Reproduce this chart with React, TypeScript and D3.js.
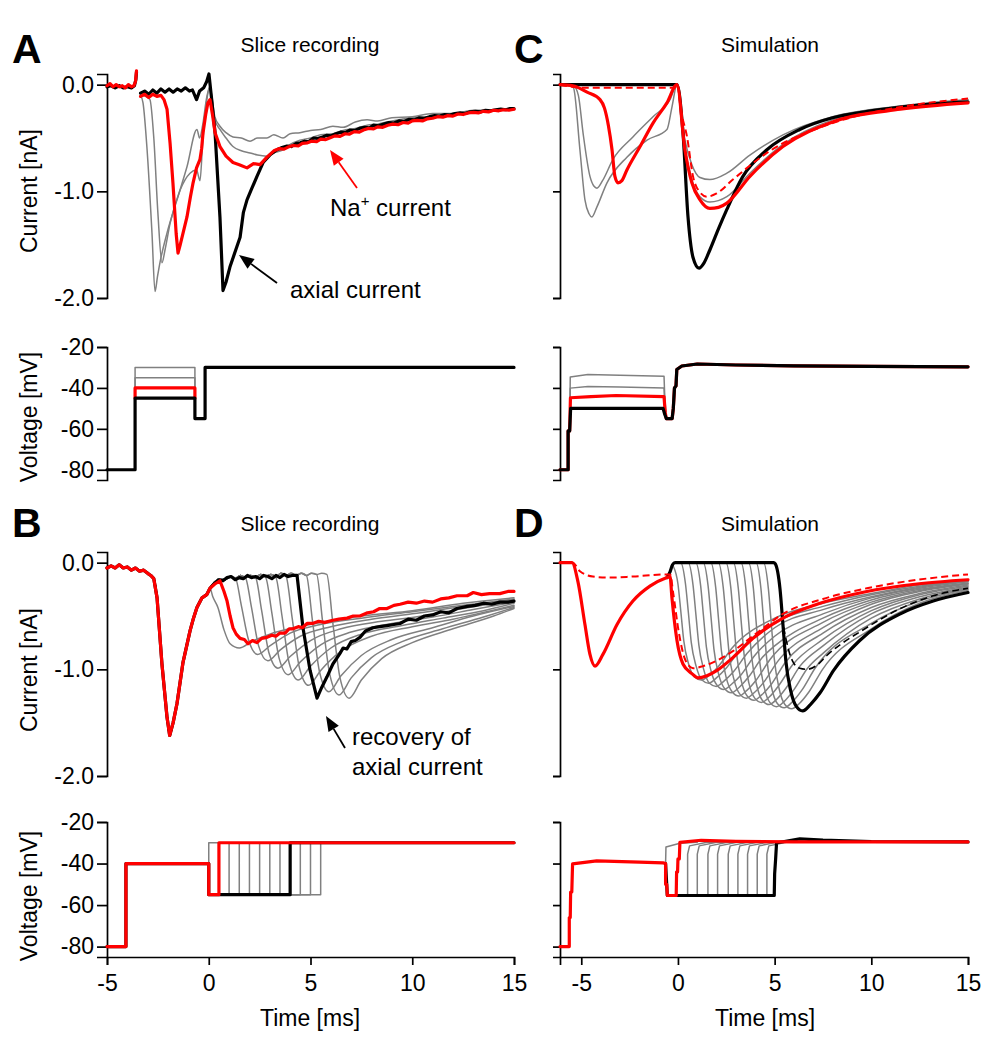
import React, { useEffect, useRef } from 'react';
import * as d3 from 'd3';

type P = [number, number];

// ---------------- Tick labels ----------------
const currentTicks = [0, -1, -2];
const voltageTicks = [-20, -40, -60, -80];
const timeTicks = [-5, 0, 5, 10, 15];

// ---------------- Panel A: slice recording, current (ms, nA) ----------------
const aCurRedPre: P[] = [[-5,-0.01],[-4.85,0.01],[-4.7,-0.02],[-4.55,0.0],[-4.4,-0.02],[-4.25,-0.01],[-4.1,-0.03],[-3.95,0.0],[-3.8,-0.02],[-3.68,-0.01],[-3.6,0.03],[-3.55,0.13]];
const aCurBlackPre: P[] = [[-5,-0.02],[-4.8,-0.01],[-4.6,-0.03],[-4.4,-0.01],[-4.2,-0.03],[-4.0,-0.02],[-3.8,-0.03],[-3.65,-0.01],[-3.58,0.05],[-3.55,0.12]];
const aCurBlack: P[] = [[-3.35,-0.08],[-3.15,-0.06],[-2.95,-0.09],[-2.75,-0.05],[-2.55,-0.08],[-2.35,-0.04],[-2.15,-0.07],[-1.95,-0.04],[-1.75,-0.07],[-1.55,-0.04],[-1.35,-0.06],[-1.15,-0.03],[-0.95,-0.06],[-0.8,-0.05],[-0.6,-0.14],[-0.45,-0.06],[-0.25,-0.03],[-0.1,0.03],[0.01,0.1],[0.15,-0.15],[0.31,-0.45],[0.55,-1.24],[0.7,-1.93],[0.85,-1.85],[1.04,-1.71],[1.2,-1.62],[1.54,-1.43],[1.7,-1.2],[1.88,-1.08],[2.1,-0.98],[2.37,-0.86],[2.67,-0.73],[3.0,-0.66],
  [3.35,-0.61],[3.6,-0.59],[3.85,-0.575],[4.05,-0.58],[4.3,-0.55],[4.5,-0.545],[4.7,-0.53],[4.9,-0.535],[5.15,-0.5],[5.35,-0.505],[5.6,-0.49],[5.8,-0.475],[6.0,-0.48],[6.25,-0.46],[6.5,-0.445],[6.7,-0.45],[6.95,-0.425],[7.2,-0.43],[7.4,-0.41],[7.65,-0.4],[7.9,-0.405],[8.1,-0.38],[8.35,-0.385],[8.6,-0.37],[8.85,-0.355],[9.1,-0.36],[9.35,-0.34],[9.6,-0.345],[9.85,-0.325],[10.1,-0.33],[10.35,-0.31],[10.6,-0.315],[10.85,-0.3],[11.1,-0.29],[11.35,-0.295],[11.6,-0.28],[11.85,-0.285],[12.1,-0.27],[12.35,-0.265],[12.6,-0.27],[12.85,-0.255],[13.1,-0.25],[13.35,-0.255],[13.6,-0.24],[13.85,-0.245],[14.1,-0.235],[14.35,-0.23],[14.6,-0.235],[14.8,-0.225],[15,-0.225]];
const aCurRed: P[] = [[-3.35,-0.11],[-3.15,-0.09],[-2.95,-0.12],[-2.75,-0.09],[-2.55,-0.11],[-2.35,-0.1],[-2.2,-0.14],[-2.05,-0.23],[-1.9,-0.55],[-1.76,-0.92],[-1.6,-1.4],[-1.51,-1.58],[-1.4,-1.5],[-1.07,-1.24],[-0.9,-1.05],[-0.77,-0.92],[-0.6,-0.78],[-0.43,-0.7],[-0.35,-0.6],[-0.28,-0.45],[-0.15,-0.28],[-0.04,-0.17],[0.06,-0.14],[0.2,-0.3],[0.31,-0.45],[0.55,-0.58],[0.85,-0.67],[1.19,-0.73],[1.5,-0.75],[1.88,-0.78],[2.2,-0.74],[2.52,-0.75],[2.86,-0.68],
  [3.2,-0.62],[3.45,-0.6],[3.7,-0.605],[3.9,-0.585],[4.15,-0.57],[4.4,-0.575],[4.6,-0.55],[4.85,-0.545],[5.05,-0.53],[5.3,-0.535],[5.5,-0.51],[5.75,-0.515],[6.0,-0.495],[6.2,-0.48],[6.45,-0.485],[6.7,-0.46],[6.9,-0.465],[7.15,-0.44],[7.4,-0.445],[7.6,-0.425],[7.85,-0.41],[8.1,-0.415],[8.3,-0.395],[8.55,-0.4],[8.8,-0.38],[9.05,-0.37],[9.3,-0.375],[9.55,-0.355],[9.8,-0.36],[10.0,-0.34],[10.25,-0.335],[10.5,-0.34],[10.75,-0.32],[11.0,-0.315],[11.25,-0.3],[11.5,-0.305],[11.75,-0.29],[12.0,-0.295],[12.25,-0.275],[12.5,-0.28],[12.75,-0.265],[13.0,-0.26],[13.25,-0.265],[13.5,-0.25],[13.75,-0.255],[14.0,-0.24],[14.25,-0.245],[14.5,-0.235],[14.75,-0.24],[15,-0.23]];
const aCurGray30: P[] = [[-3.35,-0.1],[-3.23,-0.17],[-3.03,-0.61],[-2.79,-1.39],[-2.64,-1.94],[-2.52,-1.8],[-2.4,-1.67],[-2.05,-1.39],[-1.56,-1.08],[-1.07,-0.77],[-0.58,-0.42],[-0.45,-0.5],[-0.3,-0.38],[-0.1,-0.12],[0.05,-0.02],[0.3,-0.3],[0.55,-0.39],[0.85,-0.45],[1.19,-0.49],[1.6,-0.5],[2.03,-0.53],[2.4,-0.5],[2.86,-0.5],[3.2,-0.47],[3.65,-0.5],[4.0,-0.46],[4.48,-0.45],[5.0,-0.43],[5.5,-0.42],[6.1,-0.39],[6.6,-0.4],[7.2,-0.35],[7.78,-0.33],[8.3,-0.34],[9.0,-0.31],[10,-0.3],[11,-0.27],[12,-0.27],[13,-0.24],[14,-0.24],[15,-0.22]];
const aCurGray35: P[] = [[-3.35,-0.1],[-3.1,-0.11],[-2.89,-0.14],[-2.7,-0.5],[-2.5,-1.2],[-2.3,-1.67],[-2.15,-1.55],[-1.9,-1.3],[-1.41,-0.99],[-0.92,-0.83],[-0.6,-0.8],[-0.43,-0.9],[-0.3,-0.55],[-0.1,-0.15],[0.05,-0.03],[0.3,-0.33],[0.55,-0.42],[0.85,-0.5],[1.19,-0.58],[1.6,-0.62],[2.03,-0.64],[2.4,-0.66],[2.86,-0.67],[3.2,-0.64],[3.65,-0.61],[4.0,-0.56],[4.48,-0.52],[5.0,-0.5],[5.5,-0.47],[6.1,-0.46],[6.6,-0.43],[7.2,-0.41],[7.78,-0.38],[8.3,-0.37],[9,-0.34],[10,-0.31],[11,-0.3],[12,-0.27],[13,-0.26],[14,-0.24],[15,-0.23]];

// ---------------- Panel A: voltage protocol (ms, mV) ----------------
const aVoltBlack: P[] = [[-5,-80],[-3.62,-80],[-3.62,-45],[-0.68,-45],[-0.68,-55],[-0.18,-55],[-0.18,-30],[15,-30]];
const aVoltRed: P[] = [[-3.62,-45],[-3.62,-40],[-0.68,-40],[-0.68,-45]];
const aVoltGray30: P[] = [[-3.62,-40],[-3.62,-30],[-0.68,-30],[-0.68,-40]];
const aVoltGray35: P[] = [[-3.62,-40],[-3.62,-35],[-0.68,-35],[-0.68,-40]];

// ---------------- Panel B: slice recording, current ----------------
const bCurPre: P[] = [[-5,-0.05],[-4.8,-0.03],[-4.6,-0.05],[-4.4,-0.02],[-4.2,-0.05],[-4.0,-0.04],[-3.8,-0.07],[-3.6,-0.05],[-3.4,-0.08],[-3.2,-0.07],[-3.0,-0.1],[-2.85,-0.12],[-2.7,-0.15],[-2.54,-0.33],[-2.3,-0.95],[-2.05,-1.45],[-1.92,-1.62],[-1.75,-1.5],[-1.56,-1.32],[-1.27,-0.94],[-0.92,-0.64],[-0.75,-0.52],[-0.58,-0.42],[-0.33,-0.33],[-0.1,-0.3],[0.06,-0.24]];
const bCurBlackPost: P[] = [[0.3,-0.19],[0.5,-0.16],[0.7,-0.17],[0.9,-0.14],[1.1,-0.13],[1.3,-0.16],[1.5,-0.14],[1.7,-0.15],[1.9,-0.12],[2.1,-0.14],[2.3,-0.13],[2.5,-0.15],[2.7,-0.12],[2.9,-0.13],[3.1,-0.15],[3.3,-0.12],[3.5,-0.14],[3.7,-0.11],[3.9,-0.13],[4.1,-0.12],[4.34,-0.12],[4.63,-0.61],[4.98,-1.01],[5.32,-1.27],[5.55,-1.17],[5.81,-1.07],[6.1,-0.95],[6.45,-0.85],[6.6,-0.8],[6.79,-0.81],[7.0,-0.74],[7.2,-0.73],[7.43,-0.7],[7.7,-0.64],[8.07,-0.61],[8.4,-0.6],[8.76,-0.59],[9.1,-0.58],[9.4,-0.57],[9.8,-0.53],[10.2,-0.54],[10.6,-0.5],[11.0,-0.49],[11.4,-0.46],[11.8,-0.47],[12.2,-0.43],[12.7,-0.41],[13.1,-0.4],[13.5,-0.38],[13.9,-0.39],[14.3,-0.37],[14.7,-0.37],[15,-0.36]];
const bCurRedPost: P[] = [[0.3,-0.2],[0.55,-0.17],[0.75,-0.27],[0.9,-0.36],[1.05,-0.5],[1.19,-0.61],[1.35,-0.67],[1.54,-0.71],[1.75,-0.72],[1.93,-0.76],[2.15,-0.73],[2.37,-0.75],[2.6,-0.71],[2.86,-0.7],[3.1,-0.68],[3.3,-0.69],[3.5,-0.66],[3.75,-0.66],[3.95,-0.62],[4.14,-0.62],[4.4,-0.6],[4.6,-0.61],[4.83,-0.57],[5.1,-0.57],[5.4,-0.55],[5.7,-0.56],[6.1,-0.54],[6.4,-0.53],[6.8,-0.52],[7.1,-0.5],[7.43,-0.5],[7.8,-0.47],[8.1,-0.46],[8.4,-0.43],[8.76,-0.43],[9.1,-0.4],[9.4,-0.39],[9.8,-0.37],[10.2,-0.38],[10.6,-0.36],[11.0,-0.37],[11.4,-0.34],[11.8,-0.33],[12.2,-0.31],[12.7,-0.31],[13.0,-0.28],[13.4,-0.3],[13.8,-0.29],[14.3,-0.29],[14.7,-0.27],[15,-0.27]];
const bCurGrayFlat: P[] = [[0.3,-0.18],[0.55,-0.15],[0.8,-0.16],[1.05,-0.13],[1.3,-0.15],[1.55,-0.12],[1.8,-0.14],[2.05,-0.12],[2.3,-0.14],[2.55,-0.11],[2.8,-0.13],[3.05,-0.11],[3.3,-0.13],[3.55,-0.1],[3.8,-0.12],[4.05,-0.1],[4.3,-0.12],[4.55,-0.1],[4.8,-0.12],[5.05,-0.1],[5.3,-0.11],[5.55,-0.1],[5.8,-0.11]];
const bCurGrayPosts: P[][] = [
  [[0.2,-0.32],[0.45,-0.42],[0.75,-0.63],[1.05,-0.76],[1.5,-0.8],[2.1,-0.74],[3.0,-0.67],[4.2,-0.61],[5.5,-0.56],[7.5,-0.5],[10,-0.45],[12.5,-0.38],[15,-0.33]],
  [[1.3,-0.14],[1.6,-0.4],[1.95,-0.72],[2.4,-0.86],[3.0,-0.78],[4.0,-0.66],[5.5,-0.58],[7.5,-0.52],[10,-0.46],[12.5,-0.4],[15,-0.34]],
  [[1.8,-0.14],[2.1,-0.42],[2.45,-0.78],[2.9,-0.92],[3.5,-0.82],[4.5,-0.69],[6,-0.6],[8,-0.53],[10,-0.48],[12.5,-0.41],[15,-0.35]],
  [[2.3,-0.14],[2.6,-0.45],[2.95,-0.84],[3.4,-0.99],[4.0,-0.88],[5.0,-0.73],[6.5,-0.62],[8.5,-0.55],[10.5,-0.5],[12.5,-0.43],[15,-0.36]],
  [[2.8,-0.14],[3.1,-0.47],[3.45,-0.89],[3.9,-1.05],[4.5,-0.93],[5.5,-0.77],[7,-0.65],[9,-0.57],[11,-0.51],[13,-0.44],[15,-0.37]],
  [[3.3,-0.14],[3.6,-0.5],[3.95,-0.94],[4.4,-1.1],[5.0,-0.97],[6.0,-0.8],[7.5,-0.67],[9.5,-0.59],[11.5,-0.52],[13.5,-0.45],[15,-0.38]],
  [[3.8,-0.13],[4.1,-0.52],[4.45,-0.98],[4.9,-1.15],[5.5,-1.01],[6.5,-0.83],[8,-0.69],[10,-0.6],[12,-0.53],[15,-0.4]],
  [[4.8,-0.12],[5.1,-0.55],[5.45,-1.03],[5.9,-1.21],[6.5,-1.06],[7.5,-0.87],[9,-0.72],[11,-0.61],[13,-0.5],[15,-0.41]],
  [[5.3,-0.11],[5.6,-0.56],[5.95,-1.05],[6.4,-1.24],[7.0,-1.08],[8.0,-0.89],[9.5,-0.74],[11.5,-0.62],[13.5,-0.51],[15,-0.42]],
  [[5.8,-0.11],[6.1,-0.57],[6.45,-1.08],[6.9,-1.27],[7.5,-1.1],[8.5,-0.9],[10,-0.75],[12,-0.62],[14,-0.5],[15,-0.43]],
];

// ---------------- Panel B: voltage protocol ----------------
const bVoltBlack: P[] = [[-5,-80],[-4.07,-80],[-4.07,-40],[0,-40],[0,-55],[4.0,-55],[4.0,-30],[15,-30]];
const bVoltRed: P[] = [[-5,-80],[-4.07,-80],[-4.07,-40],[0,-40],[0,-55],[0.5,-55],[0.5,-30],[15,-30]];
const bVoltGrayRecovery = [0, 1.0, 1.5, 2.0, 2.5, 3.0, 3.5, 4.5, 5.0, 5.5];
const bVoltLevels = { pre: -40, gap: -55, test: -30 };

// ---------------- Panel C: simulation, current ----------------
const cCurBlack: P[] = [[-6.1,0],[-0.15,0],[-0.05,0],[0.26,-0.45],[0.52,-1.24],[0.78,-1.62],[1.09,-1.72],[1.35,-1.67],[1.65,-1.55],[2.1,-1.35],[2.53,-1.17],[3.36,-0.86],[4.6,-0.61],[6.3,-0.42],[8.0,-0.31],[9.8,-0.25],[11.5,-0.21],[13.2,-0.18],[15,-0.16]];
const cCurRed: P[] = [[-6.1,0],[-5.43,-0.01],[-4.7,-0.07],[-4.03,-0.14],[-3.8,-0.22],[-3.6,-0.38],[-3.41,-0.61],[-3.26,-0.86],[-3.1,-0.92],[-2.9,-0.9],[-2.64,-0.8],[-1.96,-0.58],[-1.29,-0.36],[-0.57,-0.17],[-0.05,0.0],[0.36,-0.61],[0.72,-0.92],[1.14,-1.08],[1.65,-1.16],[2.1,-1.15],[2.53,-1.11],[3.72,-0.86],[5.43,-0.58],[8.0,-0.35],[11.5,-0.23],[15,-0.17]];
const cCurRedDash: P[] = [[-6.1,0],[-5.5,-0.02],[-5.0,-0.03],[-0.15,-0.03],[-0.05,0],[0.2,-0.28],[0.47,-0.49],[0.78,-0.86],[1.1,-1.0],[1.5,-1.05],[2.0,-1.02],[2.84,-0.89],[4.6,-0.64],[8.0,-0.36],[11.5,-0.21],[15,-0.13]];
const cCurGray35: P[] = [[-6.1,0],[-5.6,0],[-5.4,-0.03],[-5.07,-0.61],[-4.81,-1.08],[-4.6,-1.21],[-4.45,-1.24],[-4.2,-1.15],[-3.67,-0.92],[-2.64,-0.68],[-1.6,-0.52],[-0.57,-0.42],[-0.31,-0.21],[-0.05,0],[0.36,-0.52],[0.72,-0.75],[1.14,-0.87],[1.65,-0.89],[2.53,-0.83],[3.72,-0.66],[5.43,-0.47],[8.0,-0.3],[11.5,-0.2],[15,-0.14]];
const cCurGray40: P[] = [[-6.1,0],[-5.4,-0.01],[-5.15,-0.1],[-4.91,-0.45],[-4.55,-0.86],[-4.35,-0.95],[-4.19,-0.97],[-3.9,-0.9],[-3.36,-0.7],[-2.33,-0.49],[-1.29,-0.3],[-0.41,-0.14],[-0.05,0],[0.36,-0.59],[0.72,-0.89],[1.14,-1.05],[1.65,-1.1],[2.53,-1.05],[3.72,-0.83],[5.43,-0.56],[8.0,-0.33],[11.5,-0.22],[15,-0.16]];

// ---------------- Panel C: voltage ----------------
const cVoltPost: P[] = [[-0.3,-55],[-0.24,-50],[-0.18,-40],[-0.1,-39],[-0.06,-31],[0.2,-29.3],[1.0,-28.3],[3,-28.8],[6,-29.2],[10,-29.5],[15,-29.7]];
const cVoltBlack: P[] = [[-6.1,-80],[-5.68,-80],[-5.68,-61],[-5.6,-61],[-5.55,-50],[-4.5,-50],[-0.77,-50],[-0.68,-53],[-0.6,-55]];
const cVoltRed: P[] = [[-6.1,-80],[-5.68,-80],[-5.68,-61],[-5.6,-61],[-5.56,-44.8],[-4.5,-44.3],[-3.2,-43.7],[-0.72,-44.3],[-0.66,-52],[-0.6,-55]];
const cVoltGray35: P[] = [[-5.6,-61],[-5.57,-34.7],[-4.66,-33.4],[-3.0,-33.8],[-0.72,-34.3],[-0.68,-45],[-0.6,-55]];
const cVoltGray40: P[] = [[-5.6,-61],[-5.57,-40.1],[-4.66,-39.3],[-3.0,-39.6],[-0.72,-40.0],[-0.68,-48],[-0.6,-55]];

// ---------------- Panel D: simulation, current ----------------
const dCurRed: P[] = [[-6.1,0],[-5.48,0],[-5.17,-0.18],[-4.81,-0.58],[-4.55,-0.86],[-4.29,-0.97],[-3.88,-0.86],[-3.15,-0.58],[-2.33,-0.36],[-1.45,-0.22],[-0.57,-0.14],[-0.41,-0.13],[-0.31,-0.33],[-0.05,-0.73],[0.26,-0.95],[0.72,-1.04],[1.03,-1.08],[1.5,-1.06],[2.02,-1.01],[2.84,-0.89],[3.88,-0.71],[5.43,-0.52],[7.19,-0.39],[9.77,-0.27],[12.36,-0.2],[15,-0.16]];
const dCurRedDash: P[] = [[-6.1,0],[-5.45,0],[-5.07,-0.08],[-4.4,-0.13],[-3.52,-0.14],[-2.33,-0.13],[-0.57,-0.11],[-0.4,-0.11],[-0.25,-0.28],[0.05,-0.66],[0.4,-0.92],[0.78,-0.99],[1.3,-0.97],[2.0,-0.92],[2.84,-0.83],[4.0,-0.67],[5.43,-0.48],[7.5,-0.34],[9.77,-0.24],[12.4,-0.16],[15,-0.11]];
const dCurBlack: P[] = [[-0.57,-0.14],[-0.42,-0.09],[-0.28,-0.02],[-0.15,0],[4.95,0],[5.03,-0.01],[5.28,-0.25],[5.43,-0.58],[5.58,-0.92],[5.83,-1.2],[6.13,-1.35],[6.45,-1.39],[6.85,-1.33],[7.35,-1.22],[8.05,-1.01],[9.4,-0.73],[11.5,-0.48],[13.2,-0.36],[15,-0.28]];
const dCurBlackDash: P[] = [[4.95,0],[5.03,-0.01],[5.28,-0.25],[5.43,-0.55],[5.63,-0.75],[5.95,-0.93],[6.3,-0.99],[6.67,-1.0],[7.2,-0.96],[7.7,-0.87],[8.38,-0.77],[9.4,-0.65],[11.5,-0.43],[13.2,-0.31],[15,-0.24]];
const dCurGrayPre: P[] = [[-0.57,-0.14],[-0.42,-0.09],[-0.28,-0.02],[-0.15,0]];
const dCurGrays: P[][] = [
  [[-0.25,-0.03],[0.0,-0.2],[0.15,-0.46],[0.3,-0.73],[0.55,-0.95],[0.85,-1.07],[1.2,-1.1],[1.6,-1.06],[2.1,-0.97],[2.8,-0.8],[5.0,-0.52],[7.5,-0.38],[10,-0.29],[12.5,-0.21],[15,-0.165]],
  [[0.14,0],[0.39,-0.2],[0.54,-0.47],[0.69,-0.75],[0.94,-0.97],[1.24,-1.1],[1.59,-1.13],[1.99,-1.08],[2.49,-0.99],[3.19,-0.82],[5.0,-0.56],[7.5,-0.41],[10,-0.3],[12.5,-0.22],[15,-0.17]],
  [[0.53,0],[0.78,-0.21],[0.93,-0.49],[1.08,-0.77],[1.33,-1.0],[1.63,-1.13],[1.98,-1.16],[2.38,-1.11],[2.88,-1.02],[3.58,-0.85],[5.0,-0.61],[7.5,-0.44],[10,-0.32],[12.5,-0.23],[15,-0.175]],
  [[0.92,0],[1.17,-0.21],[1.32,-0.5],[1.47,-0.79],[1.72,-1.02],[2.02,-1.15],[2.37,-1.19],[2.77,-1.14],[3.27,-1.05],[3.97,-0.87],[5.0,-0.69],[7.5,-0.48],[10,-0.33],[12.5,-0.24],[15,-0.18]],
  [[1.31,0],[1.56,-0.22],[1.71,-0.51],[1.86,-0.81],[2.11,-1.05],[2.41,-1.18],[2.76,-1.22],[3.16,-1.17],[3.66,-1.07],[4.36,-0.89],[5.0,-0.78],[7.5,-0.52],[10,-0.35],[12.5,-0.25],[15,-0.19]],
  [[1.7,0],[1.95,-0.23],[2.1,-0.53],[2.25,-0.83],[2.5,-1.08],[2.8,-1.21],[3.15,-1.25],[3.55,-1.2],[4.05,-1.1],[4.75,-0.91],[7.5,-0.56],[10,-0.37],[12.5,-0.26],[15,-0.195]],
  [[2.09,0],[2.34,-0.23],[2.49,-0.53],[2.64,-0.84],[2.89,-1.09],[3.19,-1.23],[3.54,-1.27],[3.94,-1.22],[4.44,-1.12],[5.14,-0.93],[7.5,-0.61],[10,-0.39],[12.5,-0.27],[15,-0.2]],
  [[2.48,0],[2.73,-0.23],[2.88,-0.54],[3.03,-0.85],[3.28,-1.11],[3.58,-1.25],[3.93,-1.29],[4.33,-1.24],[4.83,-1.14],[5.53,-0.94],[7.5,-0.66],[10,-0.42],[12.5,-0.29],[15,-0.21]],
  [[2.87,0],[3.12,-0.24],[3.27,-0.55],[3.42,-0.86],[3.67,-1.13],[3.97,-1.27],[4.32,-1.31],[4.72,-1.26],[5.22,-1.15],[5.92,-0.96],[7.5,-0.72],[10,-0.45],[12.5,-0.3],[15,-0.22]],
  [[3.26,0],[3.51,-0.24],[3.66,-0.56],[3.81,-0.88],[4.06,-1.14],[4.36,-1.29],[4.71,-1.33],[5.11,-1.28],[5.61,-1.17],[6.31,-0.97],[7.5,-0.78],[10,-0.48],[12.5,-0.32],[15,-0.23]],
  [[3.65,0],[3.9,-0.24],[4.05,-0.57],[4.2,-0.89],[4.45,-1.16],[4.75,-1.31],[5.1,-1.35],[5.5,-1.3],[6.0,-1.19],[6.7,-0.99],[7.5,-0.85],[10,-0.52],[12.5,-0.34],[15,-0.24]],
  [[4.04,0],[4.29,-0.24],[4.44,-0.57],[4.59,-0.9],[4.84,-1.17],[5.14,-1.32],[5.49,-1.36],[5.89,-1.31],[6.39,-1.2],[7.09,-0.99],[10,-0.57],[12.5,-0.36],[15,-0.25]],
  [[4.43,0],[4.68,-0.25],[4.83,-0.58],[4.98,-0.9],[5.23,-1.18],[5.53,-1.33],[5.88,-1.37],[6.28,-1.32],[6.78,-1.21],[7.48,-1.0],[10,-0.62],[12.5,-0.38],[15,-0.26]],
];

// ---------------- Panel D: voltage ----------------
const dVoltRed: P[] = [[-6.1,-80],[-5.62,-80],[-5.62,-66],[-5.57,-66],[-5.55,-53.7],[-5.49,-53.7],[-5.45,-40.2],[-4.2,-38.7],[-2.0,-39.3],[-0.77,-39.7],[-0.64,-40],[-0.64,-50],[-0.58,-50],[-0.55,-55.4],[-0.09,-55.4],[-0.07,-44],[-0.02,-44],[0.0,-37.8],[0.07,-37.8],[0.1,-29.8],[1.2,-28.8],[3,-29.3],[6,-29.6],[10,-29.6],[15,-29.6]];
const dVoltBlack: P[] = [[-0.64,-40],[-0.55,-55.4],[4.98,-55.4],[5.0,-45],[5.05,-38],[5.1,-30],[5.5,-29.4],[6.3,-28.1],[7.5,-28.7],[10,-29.4],[15,-29.6]];
const dVoltGrayRelease = [0.5, 1.0, 1.55, 2.05, 2.6, 3.1, 3.6, 4.1, 4.6];
const dVoltGrayFirst: P[] = [[-0.64,-40],[-0.62,-32],[0.1,-30.2],[1,-29.8]];
const dVoltLevels = { gap: -55.4, jump: -35.5, settle: -31.5, test: -29.8 };

// ---------------- Layout (pixels) ----------------
const W = 987, H = 1050;
const FONT = "'Liberation Sans', Arial, Helvetica, sans-serif";
const RED = '#ff0000', GRAY = '#808080', BLACK = '#000000';

const LX = d3.scaleLinear().domain([-5, 15]).range([107, 514]);
const RX = d3.scaleLinear().domain([-6.1, 15]).range([560, 968]);
const yCurTop = d3.scaleLinear().domain([-2, 0.1]).range([298, 74]);
const yCurBot = d3.scaleLinear().domain([-2, 0.1]).range([776, 552]);
const yVoltTop = d3.scaleLinear().domain([-85, -20]).range([480, 347]);
const yVoltBot = d3.scaleLinear().domain([-85, -20]).range([957, 822]);

export default function App() {
  const ref = useRef<SVGSVGElement>(null);

  useEffect(() => {
    const svg = d3.select(ref.current as SVGSVGElement);
    svg.selectAll('*').remove();
    svg.append('rect').attr('width', W).attr('height', H).attr('fill', '#fff');
    const root = svg.append('g');

    const draw = (data: P[], x: any, y: any, color: string, width: number, opts: { dash?: string; linear?: boolean } = {}) => {
      const gen = d3.line<P>().x(d => x(d[0])).y(d => y(d[1]))
        .curve(opts.linear ? d3.curveLinear : d3.curveMonotoneX);
      const p = root.append('path').attr('d', gen(data) as string)
        .attr('fill', 'none').attr('stroke', color).attr('stroke-width', width)
        .attr('stroke-linejoin', 'round').attr('stroke-linecap', 'round');
      if (opts.dash) p.attr('stroke-dasharray', opts.dash).attr('stroke-linecap', 'butt');
    };

    const yAxis = (x0: number, y: any, ticks: number[], fmt: ((d: number) => string) | null) => {
      const ax = d3.axisLeft(y).tickValues(ticks).tickSizeOuter(0)
        .tickSize(fmt ? 10 : 7).tickPadding(3)
        .tickFormat((fmt ? (d: any) => fmt(+d) : () => '') as any);
      const g = root.append('g').attr('transform', `translate(${x0},0)`).call(ax as any);
      g.attr('font-family', FONT).attr('font-size', 23);
      g.selectAll('path,line').attr('stroke', '#000').attr('stroke-width', 1.7);
      g.selectAll('text').attr('fill', '#000');
    };
    const xAxis = (y0: number, x: any) => {
      const ax = d3.axisBottom(x).tickValues(timeTicks).tickSizeOuter(0).tickSize(8).tickPadding(10)
        .tickFormat(((d: any) => String(d)) as any);
      const g = root.append('g').attr('transform', `translate(0,${y0})`).call(ax as any);
      g.attr('font-family', FONT).attr('font-size', 23);
      g.selectAll('path,line').attr('stroke', '#000').attr('stroke-width', 1.7);
      g.selectAll('text').attr('fill', '#000');
    };
    const curFmt = (d: number) => d.toFixed(1);
    const voltFmt = (d: number) => String(d);

    // Axes
    yAxis(107, yCurTop, currentTicks, curFmt);
    yAxis(107, yVoltTop, voltageTicks, voltFmt);
    yAxis(107, yCurBot, currentTicks, curFmt);
    yAxis(107, yVoltBot, voltageTicks, voltFmt);
    xAxis(957, LX);
    yAxis(560, yCurTop, currentTicks, null);
    yAxis(560, yVoltTop, voltageTicks, null);
    yAxis(560, yCurBot, currentTicks, null);
    yAxis(560, yVoltBot, voltageTicks, null);
    xAxis(957, RX);

    const TH = 3.2, GW = 1.5;

    // ----- Panel A current -----
    draw(aCurGray30, LX, yCurTop, GRAY, GW);
    draw(aCurGray35, LX, yCurTop, GRAY, GW);
    draw(aCurBlackPre, LX, yCurTop, BLACK, TH, { linear: true });
    draw(aCurRedPre, LX, yCurTop, RED, TH, { linear: true });
    draw(aCurBlack, LX, yCurTop, BLACK, TH, { linear: true });
    draw(aCurRed, LX, yCurTop, RED, TH, { linear: true });
    // ----- Panel A voltage -----
    draw(aVoltGray30, LX, yVoltTop, GRAY, GW, { linear: true });
    draw(aVoltGray35, LX, yVoltTop, GRAY, GW, { linear: true });
    draw(aVoltRed, LX, yVoltTop, RED, TH, { linear: true });
    draw(aVoltBlack, LX, yVoltTop, BLACK, TH, { linear: true });

    // ----- Panel B current -----
    bCurGrayPosts.forEach(post => {
      const data = [...bCurPre, ...bCurGrayFlat.filter(p => p[0] < post[0][0]), ...post];
      draw(data, LX, yCurBot, GRAY, GW);
    });
    draw([...bCurPre, ...bCurBlackPost], LX, yCurBot, BLACK, TH, { linear: true });
    draw([...bCurPre, ...bCurRedPost], LX, yCurBot, RED, TH, { linear: true });
    // ----- Panel B voltage -----
    bVoltGrayRecovery.forEach(rv => {
      const data: P[] = rv === 0
        ? [[0, bVoltLevels.pre], [0, bVoltLevels.test], [15, bVoltLevels.test]]
        : [[0, bVoltLevels.pre], [0, bVoltLevels.gap], [rv, bVoltLevels.gap], [rv, bVoltLevels.test], [15, bVoltLevels.test]];
      draw(data, LX, yVoltBot, GRAY, GW, { linear: true });
    });
    draw(bVoltBlack, LX, yVoltBot, BLACK, TH, { linear: true });
    draw(bVoltRed, LX, yVoltBot, RED, TH, { linear: true });

    // ----- Panel C current -----
    draw(cCurGray35, RX, yCurTop, GRAY, GW);
    draw(cCurGray40, RX, yCurTop, GRAY, GW);
    draw(cCurBlack, RX, yCurTop, BLACK, TH);
    draw(cCurRedDash, RX, yCurTop, RED, 2, { dash: '7,4' });
    draw(cCurRed, RX, yCurTop, RED, TH);
    // ----- Panel C voltage -----
    draw([...cVoltGray35, ...cVoltPost], RX, yVoltTop, GRAY, GW, { linear: true });
    draw([...cVoltGray40, ...cVoltPost], RX, yVoltTop, GRAY, GW, { linear: true });
    draw([...cVoltRed, ...cVoltPost], RX, yVoltTop, RED, TH, { linear: true });
    draw([...cVoltBlack, ...cVoltPost], RX, yVoltTop, BLACK, TH, { linear: true });

    // ----- Panel D current -----
    dCurGrays.forEach(tr => {
      const data = [...dCurGrayPre.filter(p => p[0] < tr[0][0]), ...tr];
      draw(data, RX, yCurBot, GRAY, GW);
    });
    draw(dCurBlackDash, RX, yCurBot, BLACK, 1.6, { dash: '7,4' });
    draw(dCurBlack, RX, yCurBot, BLACK, TH);
    draw(dCurRedDash, RX, yCurBot, RED, 2, { dash: '7,4' });
    draw(dCurRed, RX, yCurBot, RED, TH);
    // ----- Panel D voltage -----
    draw(dVoltGrayFirst, RX, yVoltBot, GRAY, GW, { linear: true });
    dVoltGrayRelease.forEach(r => {
      const data: P[] = [[-0.55, dVoltLevels.gap], [r, dVoltLevels.gap], [r, dVoltLevels.jump], [r + 0.1, dVoltLevels.settle], [r + 1.0, dVoltLevels.test], [15, dVoltLevels.test]];
      draw(data, RX, yVoltBot, GRAY, GW, { linear: true });
    });
    draw(dVoltBlack, RX, yVoltBot, BLACK, TH, { linear: true });
    draw(dVoltRed, RX, yVoltBot, RED, TH, { linear: true });

    // ----- Text -----
    const text = (x: number, y: number, s: string, size: number, opts: { anchor?: string; bold?: boolean; rotate?: boolean } = {}) => {
      const t = root.append('text').attr('font-family', FONT).attr('font-size', size)
        .attr('text-anchor', opts.anchor || 'start').attr('fill', '#000').text(s);
      if (opts.bold) t.attr('font-weight', 'bold');
      if (opts.rotate) t.attr('transform', `translate(${x},${y}) rotate(-90)`);
      else t.attr('x', x).attr('y', y);
      return t;
    };
    text(12, 63, 'A', 41, { bold: true });
    text(514, 63, 'C', 41, { bold: true });
    text(12, 537, 'B', 41, { bold: true });
    text(514, 537, 'D', 41, { bold: true });
    text(310, 52, 'Slice recording', 21, { anchor: 'middle' });
    text(770, 52, 'Simulation', 21, { anchor: 'middle' });
    text(310, 531, 'Slice recording', 21, { anchor: 'middle' });
    text(770, 531, 'Simulation', 21, { anchor: 'middle' });
    text(37, 191, 'Current [nA]', 23, { anchor: 'middle', rotate: true });
    text(37, 417, 'Voltage [mV]', 23, { anchor: 'middle', rotate: true });
    text(37, 670, 'Current [nA]', 23, { anchor: 'middle', rotate: true });
    text(37, 896, 'Voltage [mV]', 23, { anchor: 'middle', rotate: true });
    text(310, 1026, 'Time [ms]', 23, { anchor: 'middle' });
    text(765, 1026, 'Time [ms]', 23, { anchor: 'middle' });

    // Annotations
    const na = root.append('text').attr('font-family', FONT).attr('font-size', 24).attr('x', 330).attr('y', 216).attr('fill', '#000');
    na.append('tspan').text('Na');
    na.append('tspan').attr('font-size', 15).attr('dy', -10).text('+');
    na.append('tspan').attr('dy', 10).text(' current');
    text(290, 298, 'axial current', 24);
    text(352, 745, 'recovery of', 24);
    text(352, 775, 'axial current', 24);

    const arrow = (x1: number, y1: number, x2: number, y2: number, color: string) => {
      const a = Math.atan2(y2 - y1, x2 - x1);
      const L = 15, w = 6;
      const bx = x2 - L * Math.cos(a), by = y2 - L * Math.sin(a);
      root.append('line').attr('x1', x1).attr('y1', y1).attr('x2', bx).attr('y2', by)
        .attr('stroke', color).attr('stroke-width', 1.8);
      const pts = [[x2, y2], [bx - w * Math.sin(a), by + w * Math.cos(a)], [bx + w * Math.sin(a), by - w * Math.cos(a)]];
      root.append('polygon').attr('points', pts.map(p => p.join(',')).join(' ')).attr('fill', color);
    };
    arrow(357, 188, 330, 150, RED);
    arrow(277, 283, 239, 255, BLACK);
    arrow(345, 748, 326, 716, BLACK);
  }, []);

  return <svg ref={ref} width={W} height={H} style={{ position: 'absolute', left: 0, top: 0 }} />;
}
